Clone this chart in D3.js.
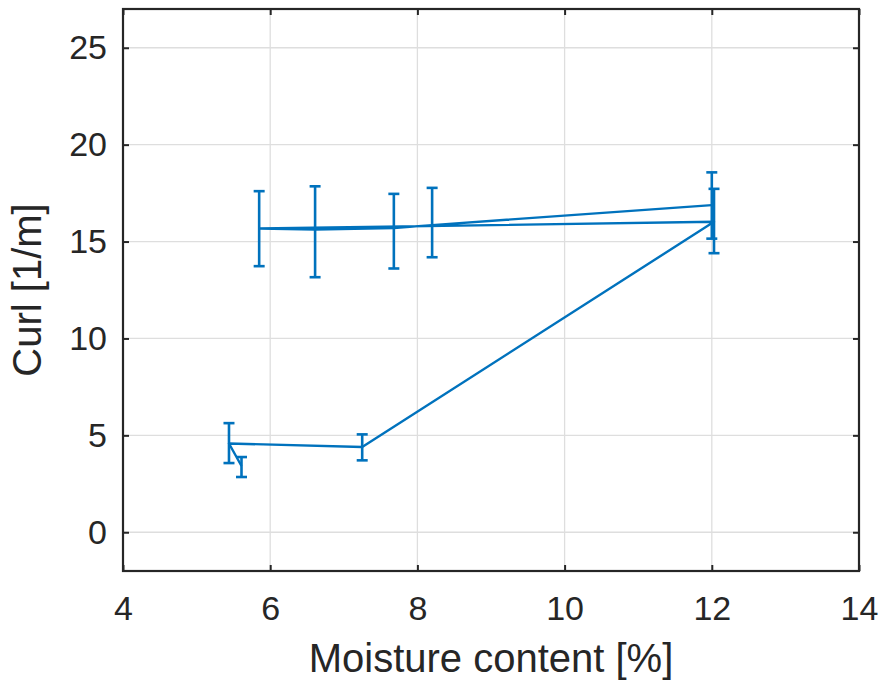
<!DOCTYPE html>
<html>
<head>
<meta charset="utf-8">
<script src="https://cdn.jsdelivr.net/npm/d3@7"></script>
<style>
  html, body { margin: 0; padding: 0; background: #fff; }
  svg { display: block; font-family: "Liberation Sans", Arial, Helvetica, sans-serif; }
</style>
</head>
<body>
<svg id="chart" width="879" height="686"></svg>
<script>
// Measurement sequence: moisture content [%] and curl [1/m] with error bar limits
const moisture = [5.61, 5.44, 7.25, 12.03, 5.85, 6.61, 7.68, 8.20, 12.00];
const curl     = [3.42, 4.58, 4.40, 16.02, 15.67, 15.62, 15.70, 15.85, 16.88];
const curlLow  = [2.85, 3.57, 3.71, 14.40, 13.73, 13.16, 13.61, 14.19, 15.15];
const curlHigh = [3.88, 5.63, 5.05, 17.72, 17.60, 17.85, 17.46, 17.77, 18.57];

const xTicks = [4, 6, 8, 10, 12, 14];
const yTicks = [0, 5, 10, 15, 20, 25];

const W = 879, H = 686;
const margin = { left: 123, right: 20, top: 9, bottom: 115 };
const x0 = margin.left, x1 = W - margin.right;
const y0 = H - margin.bottom, y1 = margin.top;

const x = d3.scaleLinear().domain([4, 14]).range([x0, x1]);
const y = d3.scaleLinear().domain([-2, 27]).range([y0, y1]);

const svg = d3.select("#chart");
const blue = "#0072BD";
const axisColor = "#262626";

// grid
const grid = svg.append("g").attr("class", "grid");
grid.selectAll("line.vx").data(xTicks.slice(1, -1)).join("line")
  .attr("x1", d => x(d)).attr("x2", d => x(d))
  .attr("y1", y0).attr("y2", y1)
  .attr("stroke", "#dedede").attr("stroke-width", 1.3);
grid.selectAll("line.hy").data(yTicks).join("line")
  .attr("x1", x0).attr("x2", x1)
  .attr("y1", d => y(d)).attr("y2", d => y(d))
  .attr("stroke", "#dedede").attr("stroke-width", 1.3);

// data line
const pts = moisture.map((m, i) => ({ m, c: curl[i], lo: curlLow[i], hi: curlHigh[i] }));
const line = d3.line().x(d => x(d.m)).y(d => y(d.c));
svg.append("path").datum(pts)
  .attr("d", line)
  .attr("fill", "none").attr("stroke", blue).attr("stroke-width", 2.4)
  .attr("stroke-linejoin", "round");

// error bars
const cap = 5.5;
const eb = svg.append("g").attr("stroke", blue).attr("stroke-width", 2.6).attr("fill", "none");
const bars = eb.selectAll("g").data(pts).join("g");
bars.append("line")
  .attr("x1", d => x(d.m)).attr("x2", d => x(d.m))
  .attr("y1", d => y(d.lo)).attr("y2", d => y(d.hi));
bars.append("line")
  .attr("x1", d => x(d.m) - cap).attr("x2", d => x(d.m) + cap)
  .attr("y1", d => y(d.lo)).attr("y2", d => y(d.lo));
bars.append("line")
  .attr("x1", d => x(d.m) - cap).attr("x2", d => x(d.m) + cap)
  .attr("y1", d => y(d.hi)).attr("y2", d => y(d.hi));

// axes (ticks inward, on all four sides)
const tickLen = 6;
const tickFont = 34;
const labelFont = 40;
const axB = svg.append("g").attr("transform", `translate(0,${y0})`)
  .call(d3.axisBottom(x).tickValues(xTicks).tickSize(-tickLen).tickPadding(25).tickFormat(d3.format("d")));
const axT = svg.append("g").attr("transform", `translate(0,${y1})`)
  .call(d3.axisTop(x).tickValues(xTicks).tickSize(-tickLen).tickFormat(""));
const axL = svg.append("g").attr("transform", `translate(${x0},0)`)
  .call(d3.axisLeft(y).tickValues(yTicks).tickSize(-tickLen).tickPadding(16).tickFormat(d3.format("d")));
const axR = svg.append("g").attr("transform", `translate(${x1},0)`)
  .call(d3.axisRight(y).tickValues(yTicks).tickSize(-tickLen).tickFormat(""));

[axB, axT, axL, axR].forEach(a => {
  a.select(".domain").remove();
  a.selectAll(".tick line").attr("stroke", axisColor).attr("stroke-width", 2);
  a.selectAll(".tick text").attr("fill", axisColor)
    .attr("font-size", tickFont).attr("font-family", "Liberation Sans, Arial, sans-serif");
});

// box
svg.append("rect")
  .attr("x", x0).attr("y", y1)
  .attr("width", x1 - x0).attr("height", y0 - y1)
  .attr("fill", "none").attr("stroke", axisColor).attr("stroke-width", 2.2);

// axis labels
svg.append("text")
  .attr("x", (x0 + x1) / 2).attr("y", 672)
  .attr("text-anchor", "middle").attr("fill", axisColor)
  .attr("font-size", labelFont)
  .text("Moisture content [%]");
svg.append("text")
  .attr("transform", `translate(41,${(y0 + y1) / 2}) rotate(-90)`)
  .attr("text-anchor", "middle").attr("fill", axisColor)
  .attr("font-size", labelFont)
  .text("Curl [1/m]");
</script>
</body>
</html>
